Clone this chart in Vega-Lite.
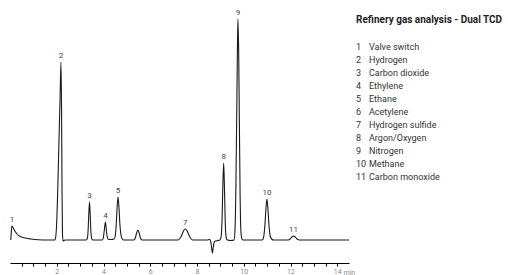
{
"$schema": "https://vega.github.io/schema/vega-lite/v6.json",
"padding": {"left": 8, "top": 0, "right": 0, "bottom": 0},
"bounds": "flush",
"spacing": 7,
"config": {"view": {"stroke": null}, "font": "Roboto"},
"datasets": {
"signal": [
{"t":0.03,"v":0},{"t":0.05,"v":6},{"t":0.07,"v":12},{"t":0.09,"v":14},{"t":0.12,"v":13},{"t":0.16,"v":11},{"t":0.22,"v":8.5},{"t":0.30,"v":6},{"t":0.40,"v":4},{"t":0.52,"v":2.8},{"t":0.70,"v":1.7},{"t":0.90,"v":1},{"t":1.20,"v":0.3},{"t":1.60,"v":0},
{"t":1.92,"v":0},{"t":1.95,"v":2},{"t":1.99,"v":14},{"t":2.04,"v":48},{"t":2.09,"v":95},{"t":2.14,"v":140},{"t":2.18,"v":178},{"t":2.205,"v":130},{"t":2.225,"v":50},{"t":2.245,"v":6},{"t":2.27,"v":-1},{"t":2.35,"v":0},
{"t":3.26,"v":0},{"t":3.31,"v":2},{"t":3.34,"v":9},{"t":3.37,"v":26},{"t":3.40,"v":38},{"t":3.43,"v":26},{"t":3.46,"v":9},{"t":3.49,"v":2},{"t":3.54,"v":0},
{"t":3.95,"v":0},{"t":3.99,"v":2},{"t":4.03,"v":9},{"t":4.08,"v":18},{"t":4.12,"v":10},{"t":4.16,"v":3},{"t":4.20,"v":0.8},{"t":4.25,"v":0.5},{"t":4.30,"v":0.5},
{"t":4.46,"v":1},{"t":4.50,"v":4},{"t":4.54,"v":14},{"t":4.58,"v":32},{"t":4.62,"v":43},{"t":4.66,"v":33},{"t":4.70,"v":16},{"t":4.74,"v":6},{"t":4.79,"v":1.5},{"t":4.86,"v":0},
{"t":5.30,"v":0},{"t":5.36,"v":2},{"t":5.41,"v":6.5},{"t":5.47,"v":10},{"t":5.53,"v":6.5},{"t":5.58,"v":2},{"t":5.65,"v":0},
{"t":7.18,"v":0},{"t":7.27,"v":1.5},{"t":7.35,"v":5},{"t":7.43,"v":9.5},{"t":7.50,"v":11},{"t":7.57,"v":9.5},{"t":7.65,"v":5},{"t":7.73,"v":1.5},{"t":7.82,"v":0},
{"t":8.45,"v":0},{"t":8.52,"v":0.8},{"t":8.58,"v":-1},{"t":8.62,"v":-7},{"t":8.66,"v":-13},{"t":8.69,"v":-8},{"t":8.73,"v":-2.5},{"t":8.78,"v":-1},{"t":8.90,"v":-0.5},
{"t":8.98,"v":0},{"t":9.03,"v":3},{"t":9.07,"v":20},{"t":9.11,"v":60},{"t":9.14,"v":77},{"t":9.17,"v":55},{"t":9.21,"v":15},{"t":9.25,"v":2},{"t":9.30,"v":0},{"t":9.45,"v":-0.5},
{"t":9.58,"v":0},{"t":9.62,"v":8},{"t":9.66,"v":50},{"t":9.70,"v":130},{"t":9.73,"v":195},{"t":9.75,"v":221},{"t":9.78,"v":190},{"t":9.81,"v":120},{"t":9.84,"v":50},{"t":9.87,"v":12},{"t":9.91,"v":2},{"t":9.96,"v":0},
{"t":10.79,"v":0},{"t":10.85,"v":3},{"t":10.90,"v":14},{"t":10.95,"v":32},{"t":10.99,"v":41},{"t":11.03,"v":32},{"t":11.08,"v":14},{"t":11.13,"v":4},{"t":11.19,"v":1},{"t":11.27,"v":0},
{"t":11.90,"v":0},{"t":11.98,"v":1},{"t":12.06,"v":3},{"t":12.13,"v":4},{"t":12.20,"v":3},{"t":12.28,"v":1},{"t":12.38,"v":0},
{"t":14.5,"v":0}
],
"peaks": [
{"n":1,"name":"Valve switch","t":0.09,"h":14},
{"n":2,"name":"Hydrogen","t":2.18,"h":178},
{"n":3,"name":"Carbon dioxide","t":3.40,"h":38},
{"n":4,"name":"Ethylene","t":4.08,"h":18},
{"n":5,"name":"Ethane","t":4.62,"h":43},
{"n":6,"name":"Acetylene","t":5.47,"h":10},
{"n":7,"name":"Hydrogen sulfide","t":7.50,"h":11},
{"n":8,"name":"Argon/Oxygen","t":9.14,"h":77},
{"n":9,"name":"Nitrogen","t":9.75,"h":221},
{"n":10,"name":"Methane","t":10.99,"h":41},
{"n":11,"name":"Carbon monoxide","t":12.13,"h":4}
]
},
"hconcat": [
{
"width": 339,
"height": 263,
"resolve": {"axis": {"x": "independent"}},
"layer": [
{
"data": {"name": "signal"},
"mark": {"type": "line", "color": "#1a1a1a", "strokeWidth": 1.1, "interpolate": "monotone"},
"encoding": {
"x": {"field": "t", "type": "quantitative",
"scale": {"domain": [0, 14.5], "nice": false, "zero": false},
"axis": {"orient": "bottom", "title": "min", "titleFontSize": 7, "titleFontWeight": "normal", "titleColor": "#888", "titleAnchor": "end", "titleAlign": "left", "titleX": 333, "titleY": 5, "titleBaseline": "top",
"grid": false, "labels": false,
"values": [0.5,1,1.5,2,2.5,3,3.5,4,4.5,5,5.5,6,6.5,7,7.5,8,8.5,9,9.5,10,10.5,11,11.5,12,12.5,13,13.5,14],
"domainColor": "#000", "domainWidth": 1, "tickColor": "#000", "tickSize": 3, "tickWidth": 1
}},
"y": {"field": "v", "type": "quantitative", "scale": {"domain": [-23, 240], "nice": false, "zero": false}, "axis": null}
}
},
{
"data": {"name": "peaks"},
"transform": [{"filter": "datum.n != 6"}],
"mark": {"type": "text", "baseline": "bottom", "dy": -2, "fontSize": 8, "color": "#444"},
"encoding": {
"x": {"field": "t", "type": "quantitative",
"axis": {"orient": "bottom", "title": null, "grid": false, "domain": false, "ticks": false,
"values": [2,4,6,8,10,12,14],
"labelFontSize": 7, "labelColor": "#888", "labelPadding": 4, "labelFlush": false}},
"y": {"field": "h", "type": "quantitative"},
"text": {"field": "n"}
}
}
]
},
{
"data": {"name": "peaks"},
"width": 13,
"height": 190,
"title": {"text": "Refinery gas analysis - Dual TCD", "anchor": "start", "frame": "group", "orient": "top", "offset": -33, "baseline": "alphabetic", "fontSize": 10, "fontWeight": "bold", "color": "#222"},
"layer": [
{
"mark": {"type": "text", "align": "left", "baseline": "middle", "fontSize": 9, "color": "#333"},
"encoding": {
"x": {"value": 0},
"y": {"field": "n", "type": "quantitative", "scale": {"domain": [-2.6, 12], "reverse": true, "nice": false, "zero": false}, "axis": null},
"text": {"field": "n"}
}
},
{
"mark": {"type": "text", "align": "left", "baseline": "middle", "fontSize": 9, "color": "#333"},
"encoding": {
"x": {"value": 13},
"y": {"field": "n", "type": "quantitative"},
"text": {"field": "name"}
}
}
]
}
]
}
